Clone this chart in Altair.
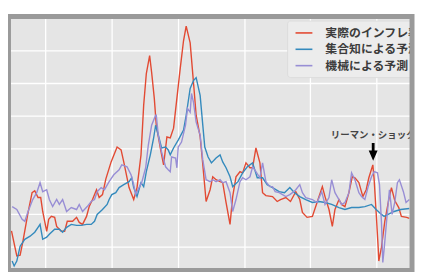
import altair as alt
import pandas as pd

# ---------------- data ----------------
series_names = ["実際のインフレ率", "集合知による予測", "機械による予測"]
series_colors = ["#E24A33", "#348ABD", "#988ED5"]

actual_year = [
    1955.0, 1955.8, 1956.3, 1956.7, 1957.5, 1958.1, 1958.5, 1959.0, 1959.4, 1959.7,
    1960.3, 1960.6, 1961.0, 1961.5, 1961.8, 1962.5, 1963.0, 1963.4, 1964.2, 1964.8,
    1965.2, 1965.7, 1966.3, 1966.7, 1967.2, 1967.8, 1968.2, 1968.7, 1969.2, 1970.0,
    1970.9, 1971.5, 1971.9, 1972.7, 1973.4, 1973.9, 1974.5, 1974.9, 1975.3, 1975.8,
    1976.1, 1976.5, 1976.8, 1977.4, 1977.9, 1978.2, 1978.4, 1978.9, 1979.4, 1979.9,
    1980.4, 1980.9, 1981.3, 1981.9, 1982.4, 1982.8, 1983.4, 1983.8, 1984.3, 1984.9,
    1985.3, 1985.8, 1986.4, 1986.8, 1987.3, 1987.9, 1988.3, 1988.8, 1989.4, 1989.8,
    1990.3, 1990.9, 1991.3, 1991.8, 1992.4, 1992.8, 1993.3, 1994.3, 1995.0, 1995.5,
    1996.3, 1997.0, 1997.8, 1998.4, 1998.8, 1999.5, 2000.3, 2001.0, 2001.8, 2002.2,
    2002.8, 2003.3, 2003.7, 2004.3, 2004.7, 2005.2, 2005.8, 2006.3, 2006.7, 2007.3,
    2007.9, 2008.4, 2008.8, 2009.4, 2009.6, 2009.9, 2010.2, 2010.3, 2010.7, 2011.2,
    2011.8, 2012.2, 2012.7, 2013.3, 2013.7, 2014.5, 2014.9,
]
actual_value = [
    0.93, -0.59, -0.55, 0.24, 2.06, 3.27, 3.39, 2.97, 2.97, 2.12,
    0.91, 1.64, 1.82, 1.76, 1.21, 0.91, 0.91, 1.52, 1.52, 1.76,
    1.45, 1.33, 1.82, 2.42, 2.85, 3.45, 2.97, 3.15, 4.10, 5.15,
    6.06, 5.88, 5.15, 3.58, 2.85, 3.58, 5.58, 8.61, 10.55, 11.64,
    10.61, 9.03, 7.39, 6.00, 4.97, 6.00, 6.67, 6.61, 7.21, 9.03,
    10.85, 12.55, 13.45, 12.42, 10.00, 8.00, 6.70, 5.00, 2.73, 3.45,
    4.24, 4.06, 3.94, 3.88, 2.67, 1.33, 3.03, 4.24, 4.55, 4.48,
    5.09, 4.79, 4.79, 6.00, 5.09, 3.27, 3.09, 3.03, 2.73, 2.85,
    2.97, 2.73, 3.33, 2.85, 2.06, 1.76, 1.82, 2.67, 3.64, 3.03,
    2.24, 1.21, 2.24, 2.85, 2.55, 2.42, 3.27, 4.24, 4.18, 3.88,
    3.03, 3.45, 4.18, 4.97, 4.06, 2.06, -0.06, -0.91, -0.06, 1.52,
    2.85, 3.58, 2.79, 2.36, 1.82, 1.76, 1.70,
]

crowd_year = [
    1955.1, 1955.4, 1955.8, 1956.3, 1957.0, 1957.8, 1958.5, 1959.0, 1959.3, 1959.7,
    1960.3, 1960.7, 1961.5, 1962.2, 1962.7, 1963.3, 1964.0, 1964.8, 1965.5, 1966.3,
    1967.0, 1967.5, 1967.9, 1968.7, 1969.4, 1969.7, 1970.1, 1970.7, 1971.2, 1971.9,
    1972.7, 1973.1, 1973.4, 1973.9, 1974.5, 1974.9, 1975.3, 1975.9, 1976.4, 1976.7,
    1977.1, 1977.6, 1978.2, 1978.6, 1978.9, 1979.4, 1980.1, 1980.9, 1981.3, 1981.9,
    1982.4, 1982.8, 1983.4, 1983.8, 1984.1, 1984.6, 1985.1, 1985.8, 1986.4, 1986.8,
    1987.3, 1987.9, 1988.3, 1989.1, 1989.8, 1990.5, 1991.3, 1992.0, 1992.8, 1993.5,
    1994.3, 1995.3, 1996.1, 1996.9, 1997.6, 1998.4, 1999.3, 2000.3, 2001.3, 2002.2,
    2003.2, 2004.3, 2005.2, 2006.2, 2007.3, 2008.2, 2009.2, 2009.9, 2010.7, 2011.1,
    2011.7, 2012.6, 2013.6, 2014.9,
]
crowd_value = [
    -0.91, -1.21, -0.91, 0.00, 0.42, 0.61, 0.85, 1.15, 1.33, 0.42,
    0.55, 0.73, 1.03, 1.03, 0.85, 1.15, 1.33, 1.27, 1.27, 1.33,
    1.33, 1.52, 1.94, 2.24, 2.55, 2.85, 3.15, 3.27, 3.58, 3.76,
    3.94, 4.18, 3.58, 3.03, 3.88, 3.64, 4.55, 5.58, 6.61, 7.39,
    6.79, 6.00, 6.06, 5.88, 5.58, 6.00, 6.48, 7.09, 8.00, 9.64,
    10.12, 10.30, 9.21, 7.40, 6.06, 5.45, 5.09, 5.39, 5.58, 5.15,
    4.79, 4.24, 3.64, 3.94, 4.48, 4.85, 5.09, 4.18, 4.18, 3.76,
    3.58, 3.33, 3.27, 3.58, 3.27, 3.03, 2.85, 2.67, 2.73, 2.67,
    2.55, 2.36, 2.24, 2.36, 2.36, 2.42, 2.55, 2.24, 1.94, 1.82,
    1.94, 2.12, 2.24, 2.30,
]

machine_year = [
    1955.1, 1955.8, 1956.6, 1957.0, 1957.5, 1958.2, 1958.8, 1959.3, 1959.7, 1960.3,
    1960.7, 1961.2, 1961.8, 1962.2, 1962.7, 1963.3, 1964.0, 1964.8, 1965.2, 1965.7,
    1966.4, 1967.0, 1967.5, 1967.9, 1968.5, 1969.0, 1969.7, 1970.4, 1971.2, 1971.6,
    1972.4, 1973.0, 1973.4, 1973.7, 1974.2, 1974.6, 1975.2, 1975.6, 1976.1, 1976.7,
    1976.8, 1977.1, 1977.6, 1978.2, 1978.6, 1978.9, 1979.1, 1979.7, 1979.9, 1980.1,
    1980.6, 1981.2, 1981.5, 1981.9, 1982.1, 1982.4, 1982.8, 1983.4, 1983.8, 1984.3,
    1984.9, 1985.3, 1985.8, 1986.4, 1986.8, 1987.3, 1987.9, 1988.3, 1988.8, 1989.4,
    1989.8, 1990.3, 1990.9, 1991.3, 1991.8, 1992.4, 1992.8, 1993.3, 1993.9, 1994.3,
    1994.7, 1995.3, 1995.8, 1996.3, 1996.9, 1997.3, 1997.8, 1998.4, 1998.8, 1999.3,
    2000.3, 2001.0, 2001.7, 2002.2, 2002.8, 2003.2, 2003.7, 2004.3, 2004.7, 2005.2,
    2005.8, 2006.2, 2006.7, 2007.3, 2007.7, 2008.2, 2008.7, 2009.2, 2009.6, 2010.1,
    2010.4, 2010.7, 2010.9, 2011.1, 2011.4, 2011.7, 2011.9, 2012.3, 2012.7, 2013.1,
    2013.4, 2014.0, 2014.4, 2014.9,
]
machine_value = [
    2.42, 2.24, 1.64, 1.52, 2.12, 2.85, 3.27, 3.88, 3.33, 3.45,
    2.85, 2.42, 2.85, 2.55, 2.85, 2.12, 2.36, 2.24, 2.55, 2.12,
    2.42, 2.73, 2.85, 3.33, 3.58, 3.45, 3.94, 4.36, 4.67, 4.97,
    4.85, 4.36, 3.76, 3.15, 3.58, 3.88, 4.79, 6.18, 7.39, 8.00,
    8.00, 6.79, 5.76, 4.85, 4.67, 4.55, 5.45, 5.39, 4.79, 6.06,
    6.36, 7.39, 8.42, 8.18, 9.33, 8.79, 7.58, 6.79, 5.27, 4.06,
    3.94, 4.06, 3.94, 4.06, 3.88, 3.94, 3.27, 2.12, 2.85, 3.94,
    4.18, 4.06, 4.24, 4.85, 4.55, 4.18, 5.09, 3.94, 3.64, 3.64,
    3.33, 3.27, 3.15, 3.03, 3.15, 3.27, 3.45, 3.76, 3.27, 2.97,
    2.85, 2.67, 3.33, 2.55, 2.97, 4.06, 3.27, 2.85, 2.55, 2.67,
    3.27, 4.48, 4.06, 3.27, 3.03, 2.85, 3.64, 4.24, 4.55, 4.48,
    3.76, 1.45, -1.00, -0.18, 1.21, 2.55, 3.45, 1.94, 2.67, 3.88,
    4.06, 3.33, 2.67, 2.85,
]

x_ticks = [1960, 1970, 1980, 1990, 2000, 2010]
y_ticks = [0, 2, 4, 6, 8, 10, 12]

annotation_label = "リーマン・ショック"
annotation_year = 2009.45
annotation_value = 4.97

# ---------------- chart ----------------
W, H = 407, 256
X_DOMAIN = [1954.55, 2015.3]
Y_DOMAIN = [-1.48, 14.03]
FONT = "Noto Sans CJK JP"

series_data = [
    (actual_year, actual_value),
    (crowd_year, crowd_value),
    (machine_year, machine_value),
]

x_enc = alt.X(
    "year:Q",
    scale=alt.Scale(domain=X_DOMAIN, nice=False, zero=False),
    axis=alt.Axis(values=x_ticks, labels=False, ticks=False, domain=False,
                  title=None, grid=True, gridColor="white", gridWidth=1.3),
)
y_enc = alt.Y(
    "value:Q",
    scale=alt.Scale(domain=Y_DOMAIN, nice=False, zero=False),
    axis=alt.Axis(values=y_ticks, labels=False, ticks=False, domain=False,
                  title=None, grid=True, gridColor="white", gridWidth=1.3),
)

layers = []
for name, color, (yrs, vals) in zip(series_names, series_colors, series_data):
    df = pd.DataFrame({"year": list(yrs), "value": list(vals)})
    layers.append(
        alt.Chart(df)
        .mark_line(strokeWidth=1.4, clip=True, color=color)
        .encode(x=x_enc, y=y_enc, order="year:Q")
    )

ann_df = pd.DataFrame({"year": [annotation_year], "value": [annotation_value],
                       "label": [annotation_label]})
ARROW = ("M 0 -0.4 L 0.45 -1.45 L 0.14 -1.45 L 0.14 -2.2 L -0.14 -2.2 "
         "L -0.14 -1.45 L -0.45 -1.45 Z")
arrow = alt.Chart(ann_df).mark_point(
    shape=ARROW, size=400, filled=True, color="black", opacity=1, strokeWidth=0
).encode(x=x_enc, y=y_enc)
label = alt.Chart(ann_df).mark_text(
    dy=-30, fontSize=9.5, font=FONT, fontWeight="bold", color="#444444", clip=True
).encode(x=x_enc, y=y_enc, text="label:N")

one = pd.DataFrame({"k": [0]})
legend_box = alt.Chart(one).mark_rect(
    fill="#ECECEC", stroke="#DADADA", strokeWidth=0.8, cornerRadius=3, clip=True
).encode(x=alt.value(281.5), x2=alt.value(430), y=alt.value(4.5), y2=alt.value(61.5))
layers.append(legend_box)
for i, (name, color) in enumerate(zip(series_names, series_colors)):
    yy = 16.5 + 16.5 * i
    layers.append(
        alt.Chart(one).mark_rule(color=color, strokeWidth=1.6)
        .encode(x=alt.value(289.5), x2=alt.value(306.5), y=alt.value(yy))
    )
    layers.append(
        alt.Chart(one).mark_text(
            align="left", baseline="middle", fontSize=12, font=FONT,
            fontWeight="bold", color="#3C3C3C", clip=True
        ).encode(x=alt.value(319.5), y=alt.value(yy), text=alt.value(name))
    )

border = alt.Chart(one).mark_rect(
    filled=False, stroke="#9A9A9A", strokeWidth=5
).encode(x=alt.value(0), x2=alt.value(W), y=alt.value(0), y2=alt.value(H))

chart = (
    alt.layer(*layers, arrow, label, border)
    .properties(
        width=W, height=H, autosize="none",
        padding={"left": 0.5, "top": 7.5, "right": 3, "bottom": 3},
        background="white",
    )
    .configure_view(fill="#E5E5E5", stroke="transparent")
)

chart.save("out.html", embed_options={"renderer": "svg", "actions": False})
